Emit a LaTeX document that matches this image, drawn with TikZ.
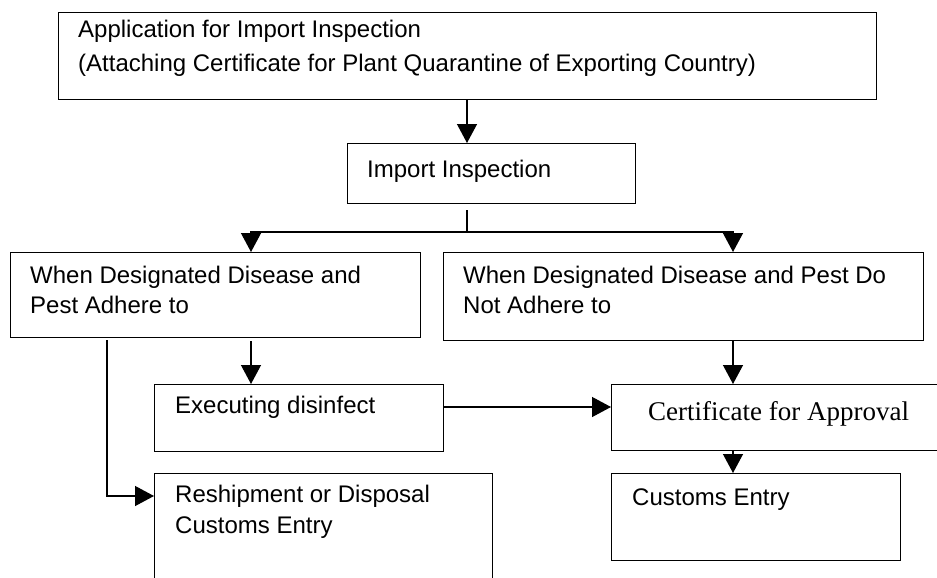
\documentclass[tikz,border=0pt]{standalone}
\usepackage{fontspec}
\setmainfont{Liberation Sans}
\newfontfamily\seriffont{Liberation Serif}
\usetikzlibrary{arrows.meta,calc}
\begin{document}
\begin{tikzpicture}[x=1pt,y=-1pt,
  box/.style={draw, line width=1.3pt, inner sep=0pt, anchor=north west},
  txt/.style={anchor=base west, inner sep=0pt, align=left, font=\fontsize{24}{30}\selectfont},
  link/.style={line width=1.3pt},
  arr/.style={line width=1.3pt, -{Triangle[width=20pt,length=19pt]}}]
\clip (0,0) rectangle (937,578);
\fill[white] (0,0) rectangle (937,578);
% boxes
\node[box, minimum width=818, minimum height=87] (app) at (58,12) {};
\node[box, minimum width=288, minimum height=60] (insp) at (347,143) {};
\node[box, minimum width=410, minimum height=85] (adh) at (10,252) {};
\node[box, minimum width=480, minimum height=88] (nadh) at (443,252) {};
\node[box, minimum width=289, minimum height=67] (exe) at (154,384) {};
\node[box, minimum width=339, minimum height=66] (cert) at (611,384) {};
\node[box, minimum width=289, minimum height=87] (cust) at (611,473) {};
\node[box, minimum width=338, minimum height=127] (resh) at (154,473) {};
% texts (base anchor = baseline of the last line)
\node[txt, font=\fontsize{24}{34}\selectfont] (tapp) at (78,72) {Application for Import Inspection\\(Attaching Certificate for Plant Quarantine of Exporting Country)};
\node[txt] (tinsp) at (367,177) {Import Inspection};
\node[txt] (tadh) at (30,313) {When Designated Disease and\\Pest Adhere to};
\node[txt] (tnadh) at (463,313) {When Designated Disease and Pest Do\\Not Adhere to};
\node[txt] (texe) at (175,413) {Executing disinfect};
\node[txt, font=\seriffont\fontsize{27}{30}\selectfont] (tcert) at (648,420) {Certificate for Approval};
\node[txt] (tcust) at (632,505) {Customs Entry};
\node[txt, font=\fontsize{24}{31}\selectfont] (tresh) at (175,533) {Reshipment or Disposal\\Customs Entry};
% helper coordinates
\coordinate (c1) at (467,0);
\coordinate (split) at (467,232);
\coordinate (cl) at (251,0);
\coordinate (cr) at (733,0);
\coordinate (cv) at (107,0);
\coordinate (yrow) at (0,496);
\coordinate (yexe) at (0,407);
% connectors
\draw[arr] (app.south -| c1) -- (insp.north -| c1);
\draw[link] ($(insp.south -| split)+(0,6)$) -- (split);
\draw[arr] (split) -| (adh.north -| cl);
\draw[arr] (split) -| (nadh.north -| cr);
\draw[arr] ($(adh.south -| cl)+(0,3)$) -- (exe.north -| cl);
\draw[arr] ($(adh.south -| cv)+(0,2)$) |- (resh.west |- yrow);
\draw[arr] (exe.east |- yexe) -- (cert.west |- yexe);
\draw[arr] (nadh.south -| cr) -- (cert.north -| cr);
\draw[arr] (cert.south -| cr) -- (cust.north -| cr);
\end{tikzpicture}
\end{document}
